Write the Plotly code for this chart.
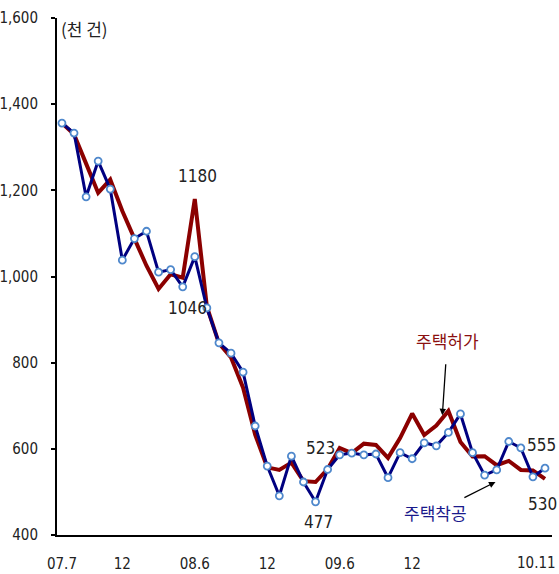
import plotly.graph_objects as go

months = ['07.7', '07.8', '07.9', '07.10', '07.11', '07.12',
          '08.1', '08.2', '08.3', '08.4', '08.5', '08.6', '08.7', '08.8', '08.9', '08.10', '08.11', '08.12',
          '09.1', '09.2', '09.3', '09.4', '09.5', '09.6', '09.7', '09.8', '09.9', '09.10', '09.11', '09.12',
          '10.1', '10.2', '10.3', '10.4', '10.5', '10.6', '10.7', '10.8', '10.9', '10.10', '10.11']

permits = [1356, 1330, 1262, 1194, 1225, 1152, 1088, 1025, 971, 1005, 997, 1180, 930, 845, 812, 742, 633,
           557, 551, 568, 525, 523, 553, 602, 590, 612, 609, 579, 625, 682, 632, 654, 688, 616, 582, 583,
           562, 572, 551, 550, 530]

starts = [1356, 1333, 1185, 1268, 1203, 1038, 1088, 1105, 1010, 1016, 976, 1046, 927, 846, 822, 778, 653,
          560, 491, 583, 523, 477, 552, 586, 590, 586, 588, 533, 591, 577, 614, 607, 638, 681, 591, 539,
          551, 617, 602, 535, 555]

tick_idx = [0, 5, 11, 17, 23, 29]
tick_text = ['07.7', '12', '08.6', '12', '09.6', '12']
last_tick_idx = 40
last_tick_text = '10.11'
y_ticks = [400, 600, 800, 1000, 1200, 1400, 1600]

x = list(range(len(months)))
FONT = "Liberation Sans Narrow, Arial Narrow, DejaVu Sans Condensed, Liberation Sans, sans-serif"

fig = go.Figure()
fig.add_trace(go.Scatter(x=x, y=permits, mode='lines', name='주택허가',
                         line=dict(color='#8B0000', width=4), customdata=months))
fig.add_trace(go.Scatter(x=x, y=starts, mode='lines+markers', name='주택착공',
                         line=dict(color='#000080', width=3),
                         marker=dict(symbol='circle', size=7, color='white',
                                     line=dict(color='#4F88CC', width=1.8)),
                         customdata=months))

ann = []
def lab(xi, yv, text, xs, ys, xanchor='center'):
    ann.append(dict(x=xi, y=yv, xref='x', yref='y', text=text, showarrow=False, xanchor=xanchor,
                    xshift=xs, yshift=ys, font=dict(size=17, color='#222222', family=FONT)))

lab(11, permits[11], str(permits[11]), 3, 23)
lab(11, starts[11], str(starts[11]), -7, -51)
lab(21, permits[21], str(permits[21]), 5, 34)
lab(21, starts[21], str(starts[21]), 3, -20)
lab(40, starts[40], str(starts[40]), 13, 23, 'right')
lab(40, permits[40], str(permits[40]), -3, -25)

# last x tick label, kept inside the page
ann.append(dict(x=last_tick_idx, y=0, xref='x', yref='paper', text=last_tick_text, showarrow=False,
                xanchor='right', yanchor='top', xshift=13, yshift=-17,
                font=dict(size=15, color='#222222', family=FONT)))

ann.append(dict(x=31.5, y=678, xref='x', yref='y', text='주택허가', showarrow=True,
                ax=5, ay=-75, axref='pixel', ayref='pixel', arrowhead=2, arrowsize=1,
                arrowwidth=1.3, arrowcolor='black', startstandoff=10,
                font=dict(size=17, color='#8B1010', family='Noto Sans CJK KR')))
ann.append(dict(x=35.9, y=523, xref='x', yref='y', text='주택착공', showarrow=True,
                ax=-60, ay=30, axref='pixel', ayref='pixel', arrowhead=2, arrowsize=1,
                arrowwidth=1.3, arrowcolor='black', startstandoff=1,
                font=dict(size=17, color='#1A1A8C', family='Noto Sans CJK KR')))
ann.append(dict(x=0.005, y=1.0, xref='paper', yref='paper', xanchor='left', yanchor='top',
                text='(천 건)', showarrow=False, yshift=4,
                font=dict(size=17, color='#222222', family='Noto Sans CJK KR')))

fig.update_layout(
    width=559, height=574,
    margin=dict(l=57, r=7, t=18, b=39),
    paper_bgcolor='white', plot_bgcolor='white',
    showlegend=False,
    annotations=ann,
    font=dict(family=FONT, size=15, color='#222222'),
)
fig.update_xaxes(range=[-0.41, 40.58], tickmode='array', tickvals=tick_idx, ticktext=tick_text,
                 showgrid=False, zeroline=False, showline=True, linecolor='black', linewidth=1.5,
                 ticks='', ticklabelstandoff=14, automargin=False, ticklabeloverflow='allow',
                 tickfont=dict(size=15, family=FONT, color='#222222'))
fig.update_yaxes(range=[400, 1600], tickmode='array', tickvals=y_ticks, tickformat=',d',
                 showgrid=False, zeroline=False, showline=True, linecolor='black', linewidth=2,
                 ticks='outside', ticklen=4, tickcolor='black', tickwidth=1.5, automargin=False,
                 ticklabelstandoff=10, ticklabeloverflow='allow',
                 tickfont=dict(size=15, family=FONT, color='#222222'))

fig.write_html("out.html")
